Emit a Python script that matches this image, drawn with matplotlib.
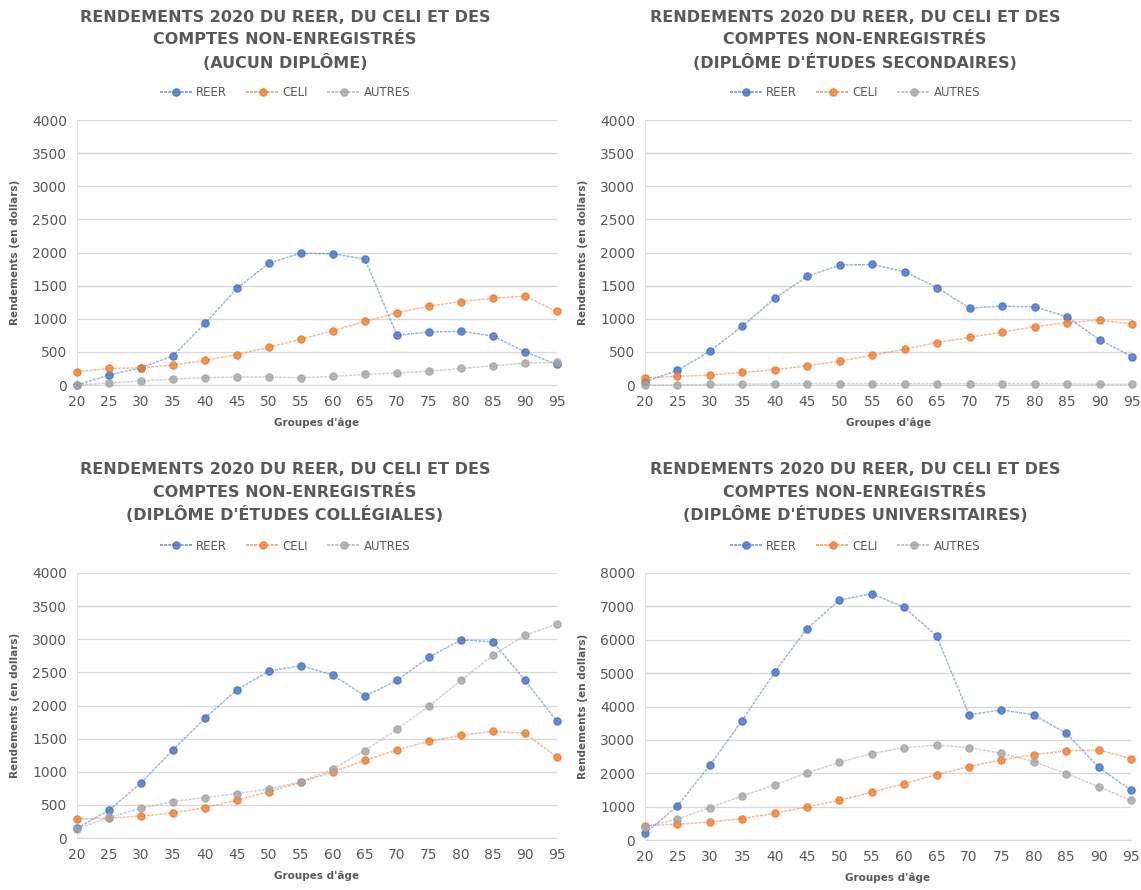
import numpy as np
import matplotlib.pyplot as plt
from matplotlib.lines import Line2D

ages = [20, 25, 30, 35, 40, 45, 50, 55, 60, 65, 70, 75, 80, 85, 90, 95]

# Aucun diplome
reer_aucun = [0, 150, 260, 440, 930, 1460, 1840, 1990, 1980, 1900, 750, 800, 810, 740, 500, 310]
celi_aucun = [200, 250, 260, 300, 370, 460, 570, 690, 820, 960, 1090, 1190, 1260, 1310, 1340, 1110]
autres_aucun = [0, 30, 60, 90, 110, 120, 120, 110, 130, 160, 180, 210, 250, 290, 330, 340]

# Diplome d'etudes secondaires
reer_sec = [50, 220, 510, 890, 1310, 1640, 1810, 1820, 1710, 1470, 1160, 1190, 1180, 1030, 680, 430]
celi_sec = [110, 130, 150, 190, 230, 290, 360, 450, 540, 640, 720, 800, 880, 940, 980, 920]
autres_sec = [0, 0, 10, 10, 20, 20, 20, 20, 20, 20, 20, 20, 20, 20, 10, 10]

# Diplome d'etudes collegiales
reer_col = [150, 420, 830, 1330, 1810, 2240, 2520, 2600, 2460, 2140, 2380, 2730, 2990, 2960, 2380, 1760]
celi_col = [290, 300, 330, 380, 460, 570, 700, 840, 1000, 1170, 1330, 1460, 1550, 1610, 1580, 1220]
autres_col = [140, 310, 450, 550, 610, 670, 740, 850, 1040, 1320, 1640, 1990, 2380, 2760, 3060, 3230]

# Diplome d'etudes universitaires
reer_uni = [200, 1020, 2240, 3580, 5030, 6330, 7190, 7380, 6970, 6120, 3750, 3900, 3750, 3200, 2180, 1490]
celi_uni = [430, 470, 540, 640, 800, 990, 1190, 1430, 1690, 1960, 2200, 2400, 2560, 2670, 2700, 2440]
autres_uni = [390, 630, 970, 1320, 1650, 2010, 2330, 2590, 2770, 2840, 2770, 2600, 2350, 1990, 1600, 1190]

series_names = ["REER", "CELI", "AUTRES"]
colors = ["#4472C4", "#ED7D31", "#A5A5A5"]
sub_titles = ["(AUCUN DIPLÔME)", "(DIPLÔME D'ÉTUDES SECONDAIRES)",
              "(DIPLÔME D'ÉTUDES COLLÉGIALES)", "(DIPLÔME D'ÉTUDES UNIVERSITAIRES)"]

TXT = "#595959"
W, H = 1141, 890

fig = plt.figure(figsize=(W / 100, H / 100), dpi=100)


def px(x0, y0, x1, y1):
    # pixel box (left, top, right, bottom) -> figure fraction
    return [x0 / W, 1 - y1 / H, (x1 - x0) / W, (y1 - y0) / H]


panels = [
    (px(77, 120, 557, 385), [reer_aucun, celi_aucun, autres_aucun], 4000, 500, 285, 0),
    (px(645, 120, 1132, 385), [reer_sec, celi_sec, autres_sec], 4000, 500, 855, 0),
    (px(77, 573, 557, 838), [reer_col, celi_col, autres_col], 4000, 500, 285, 453),
    (px(645, 573, 1131, 840), [reer_uni, celi_uni, autres_uni], 8000, 1000, 855, 453),
]

for i, (box, data, ymax, step, cx, oy) in enumerate(panels):
    ax = fig.add_axes(box)
    for vals, name, c in zip(data, series_names, colors):
        ax.plot(ages, vals, color=c, lw=1.1, alpha=0.5, ls=(0, (2, 0.7)),
                clip_on=False, zorder=3)
        ax.plot(ages, vals, ls="none", marker="o", ms=5.2, color=c,
                mec=c, alpha=0.8, clip_on=False, zorder=4)
    ax.set_xlim(20, 95)
    ax.set_ylim(0, ymax)
    ax.set_xticks(ages)
    ax.set_yticks(np.arange(0, ymax + 1, step))
    ax.grid(axis="y", color="#D9D9D9", lw=1)
    ax.set_axisbelow(True)
    for s in ["top", "right"]:
        ax.spines[s].set_visible(False)
    ax.spines["left"].set_color("#E3E3E3")
    ax.spines["bottom"].set_color("#D9D9D9")
    ax.tick_params(length=0, labelsize=10, colors=TXT, pad=7)
    ax.set_ylabel("Rendements (en dollars)", fontsize=7.5, fontweight="bold",
                  color=TXT, labelpad=9)
    ax.set_xlabel("Groupes d'âge", fontsize=7.5, fontweight="bold", color=TXT,
                  labelpad=6)

    # title
    lines = ["RENDEMENTS 2020 DU REER, DU CELI ET DES",
             "COMPTES NON-ENREGISTRÉS", sub_titles[i]]
    for k, t in enumerate(lines):
        fig.text(cx / W, 1 - (oy + 17 + 22.5 * k) / H, t, ha="center",
                 va="center", fontsize=11.5, fontweight="bold", color=TXT)

    # legend
    handles = [Line2D([], [], color=c, lw=1.1, ls=(0, (2, 0.7)), marker="o",
                      ms=5.2, mec=c, alpha=0.8) for c in colors]
    fig.legend(handles, series_names, loc="center",
               bbox_to_anchor=(cx / W, 1 - (oy + 93) / H), ncol=3,
               frameon=False, fontsize=8.5, labelcolor=TXT, handlelength=2.8,
               columnspacing=1.6, handletextpad=0.3)

fig.savefig("out.png", dpi=100)
